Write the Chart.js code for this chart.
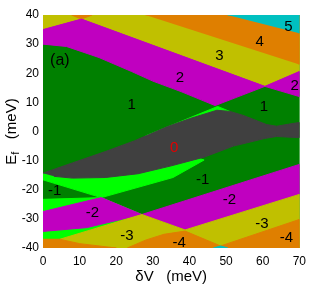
<!DOCTYPE html>
<html>
<head>
<meta charset="utf-8">
<script src="https://cdn.jsdelivr.net/npm/chart.js@4.4.0/dist/chart.umd.min.js"></script>
<style>
  html, body { margin: 0; padding: 0; background: #fff; }
</style>
</head>
<body>
<canvas id="phaseChart" width="312" height="291"></canvas>
<script>
// ================================
// axis ticks (meV)
// ================================
const xTicks = [0, 10, 20, 30, 40, 50, 60, 70];
const yTicks = [-40, -30, -20, -10, 0, 10, 20, 30, 40];

// ================================
// region outlines, points are [dV, Ef] in meV
// ================================
const fullArea = [[0, -40], [0, 40], [70, 40], [70, -40]];

const yellowUp = [[0, 40], [70, 40], [70, 20.6], [60.6, 15.5], [10.5, 38.6], [0, 35]];
const orangeUp = [[28, 40], [70, 40], [70, 23]];
const orangeTip = [[7.8, 40], [10.5, 38.6], [13.4, 40]];
const cyanUp = [[50.4, 40], [70, 40], [70, 33.7]];
const magentaUp = [[0, 35], [10.5, 38.6], [60.6, 15.5], [70, 20.6], [70, 12], [60.6, 15.5],
  [47, 8.9], [37.7, 13.7], [30, 17.3], [24.2, 20.6], [15.3, 25.4], [6.4, 29.2], [0, 30]];
const brightUp = [[28, -1.5], [47.7, 8.6], [51, 6.9], [43, 4], [34, 1.2]];

const brightMid = [[0, -14.3], [0, -16.6], [15.9, -22.7], [35.5, -15.8], [44, -9.8], [40, -8], [20, -12]];
const brightLow = [[0, -23.3], [15.9, -22.7], [27, -28.5], [4.6, -37], [0, -37]];
const magentaLeft = [[0, -27.5], [15.9, -22.7], [27, -28.5], [12, -33], [0, -34.3]];
const magentaRight = [[27, -28.5], [70, -11.3], [70, -21.6], [38.8, -33.8]];
const yellowLow = [[4.6, -37], [27, -28.5], [38.8, -33.8], [70, -21.6], [70, -40], [4.6, -40]];
const orangeLeft = [[0, -37], [4.6, -37], [10, -38.5], [20, -40], [0, -40]];
const orangeLow = [[23, -40], [28, -37.3], [33, -35.3], [38.8, -34.2], [48.5, -39.3], [70, -30.2], [70, -40]];
const cyanLow = [[46.5, -40], [48.5, -39.3], [50.5, -40]];

const grayZero = [[0, -14.3], [8, -10.8], [17, -6.9], [25, -3.2], [34, 1.7], [40, 4.4], [47.5, 7.3],
  [51, 6.9], [54.5, 5.6], [57.6, 4.1], [61, 2.4], [63.8, 1.8], [67, 2.5], [70, 3.1],
  [70, -2.1], [66.5, -1.9], [63.8, -1.7], [60.5, -2.4], [57.6, -3.3], [52, -5], [44, -8.8],
  [35, -11.8], [26, -14.5], [17, -15.8], [8, -16], [3, -15.4]];

// region labels (Chern numbers)
const labelText = ["(a)", "1", "1", "2", "2", "3", "4", "5", "0", "-1", "-1", "-2", "-2", "-3", "-3", "-4", "-4"];
const labelX = [4.6, 24.2, 60.3, 37.4, 68.7, 48.2, 59.2, 67, 35.8, 3.2, 43.6, 13.5, 50.9, 22.9, 59.8, 37.2, 66.5];
const labelY = [24.2, 9.3, 8.6, 18.5, 15.8, 25.8, 30.9, 36, -5.5, -20.3, -16.5, -27.8, -23.3, -35.7, -31.6, -38.1, -36.4];

const C = {
  green: "#008000", bright: "#00ff00", magenta: "#c000c0", yellow: "#c0c000",
  orange: "#df7f00", cyan: "#00c0c0", gray: "#404040"
};

// drawn bottom first
const regions = [
  [fullArea, C.green],
  [yellowUp, C.yellow],
  [orangeUp, C.orange],
  [orangeTip, C.orange],
  [cyanUp, C.cyan],
  [magentaUp, C.magenta],
  [brightUp, C.bright],
  [brightMid, C.bright],
  [brightLow, C.bright],
  [magentaLeft, C.magenta],
  [magentaRight, C.magenta],
  [yellowLow, C.yellow],
  [orangeLeft, C.orange],
  [orangeLow, C.orange],
  [cyanLow, C.cyan],
  [grayZero, C.gray]
];

const FONT = "'Liberation Sans', Arial, sans-serif";

// ================================
// labels + axis titles
// ================================
const textPlugin = {
  id: "phaseText",
  afterDatasetsDraw(chart) {
    const { ctx, scales: { x, y } } = chart;
    ctx.save();
    ctx.textAlign = "center";
    ctx.textBaseline = "middle";
    labelText.forEach((t, i) => {
      ctx.font = (t === "(a)" ? "16px " : "15px ") + FONT;
      ctx.fillStyle = t === "0" ? "#e00000" : "#000";
      ctx.fillText(t, x.getPixelForValue(labelX[i]), y.getPixelForValue(labelY[i]));
    });
    ctx.restore();
  },
  afterDraw(chart) {
    const { ctx, chartArea: a } = chart;
    ctx.save();
    ctx.fillStyle = "#000";
    ctx.textBaseline = "middle";

    // x title
    ctx.font = "15px " + FONT;
    ctx.textAlign = "center";
    ctx.fillText("\u03b4V   (meV)", (a.left + a.right) / 2, a.bottom + 29);

    // y title, E with subscript f
    const cy = (a.top + a.bottom) / 2;
    ctx.translate(12, cy);
    ctx.rotate(-Math.PI / 2);
    ctx.textAlign = "left";
    ctx.font = "15px " + FONT;
    const wE = ctx.measureText("E").width;
    const wRest = ctx.measureText("   (meV)").width;
    ctx.font = "11px " + FONT;
    const wf = ctx.measureText("f").width;
    let pos = -(wE + wf + wRest) / 2;
    ctx.font = "15px " + FONT;
    ctx.fillText("E", pos, 0);
    pos += wE;
    ctx.font = "11px " + FONT;
    ctx.fillText("f", pos, 4);
    pos += wf;
    ctx.font = "15px " + FONT;
    ctx.fillText("   (meV)", pos, 0);
    ctx.restore();
  }
};

new Chart(document.getElementById("phaseChart"), {
  type: "scatter",
  data: {
    datasets: regions.map(([pts, color], i) => ({
      data: pts.map(([x, y]) => ({ x, y })),
      showLine: true,
      fill: "shape",
      backgroundColor: color,
      borderColor: color,
      borderWidth: 1,
      pointRadius: 0,
      pointHoverRadius: 0,
      tension: 0,
      order: -i
    }))
  },
  options: {
    responsive: false,
    animation: false,
    events: [],
    layout: { padding: { top: 15, right: 9, left: 0, bottom: 0 } },
    plugins: { legend: { display: false }, tooltip: { enabled: false } },
    scales: {
      x: {
        type: "linear", min: 0, max: 70,
        grid: { display: false, drawTicks: false },
        border: { display: false },
        afterBuildTicks: s => { s.ticks = xTicks.map(v => ({ value: v })); },
        afterFit: s => { s.height = 43; },
        ticks: { color: "#000", padding: 6, maxRotation: 0, font: { family: FONT, size: 12 } }
      },
      y: {
        type: "linear", min: -40, max: 40,
        grid: { display: false, drawTicks: false },
        border: { display: false },
        afterBuildTicks: s => { s.ticks = yTicks.map(v => ({ value: v })); },
        afterFit: s => { s.width = 43; },
        ticks: { color: "#000", padding: 4, font: { family: FONT, size: 12 } }
      }
    }
  },
  plugins: [textPlugin]
});
</script>
</body>
</html>
